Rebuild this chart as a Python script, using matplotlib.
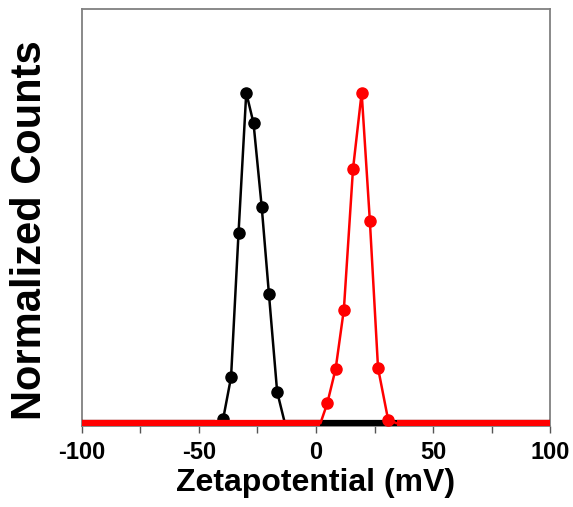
import numpy as np
import matplotlib
matplotlib.use("Agg")
import matplotlib.pyplot as plt
from matplotlib.ticker import MultipleLocator

plt.rcParams['font.family'] = ['Liberation Sans', 'DejaVu Sans']
plt.rcParams['font.weight'] = 'bold'
plt.rcParams['axes.unicode_minus'] = False

# black sample (negative zeta potential)
zeta_neg = [-100, -43.0, -39.7, -36.3, -33.1, -29.8, -26.7, -23.2, -20.1, -16.6, -13.3, 100]
counts_neg = [0, 0, 0.012, 0.139, 0.576, 1.0, 0.908, 0.655, 0.39, 0.095, 0, 0]

# red sample (positive zeta potential)
zeta_pos = [-100, 1.9, 4.8, 8.4, 11.9, 15.8, 19.5, 23.0, 26.5, 30.8, 34.4, 100]
counts_pos = [0, 0, 0.06, 0.165, 0.344, 0.769, 1.0, 0.613, 0.167, 0.011, 0, 0]

fig = plt.figure(figsize=(5.73, 5.07), dpi=100)
ax = fig.add_axes([0.143, 0.160, 0.817, 0.822])

for xs, ys, col in [(zeta_neg, counts_neg, 'black'), (zeta_pos, counts_pos, 'red')]:
    xs = np.array(xs)
    ys = np.array(ys)
    peak = np.where(ys > 0)[0]
    ax.plot(xs, ys, '-', color=col, lw=1.8, marker='o', ms=8,
            markevery=list(peak), zorder=3)
    base = np.where(ys == 0, ys, np.nan)
    ax.plot(xs, base, '-', color=col, lw=4.5, zorder=3, solid_capstyle='butt')

ax.set_xlim(-100, 100)
ax.set_ylim(-0.008, 1.253)
ax.xaxis.set_major_locator(MultipleLocator(50))
ax.xaxis.set_minor_locator(MultipleLocator(25))
ax.tick_params(axis='x', which='both', direction='out', length=5, width=1,
               color='#555555', labelsize=17, pad=6)
ax.set_yticks([])
for s in ax.spines.values():
    s.set_color('#808080')
    s.set_linewidth(1.3)

ax.set_xlabel('Zetapotential (mV)', fontsize=23, fontweight='bold')
ax.xaxis.set_label_coords(0.5, -0.100)
ax.set_ylabel('Normalized Counts', fontsize=30, fontweight='bold')
ax.yaxis.set_label_coords(-0.068, 0.47)

plt.savefig('out.png', dpi=100)
